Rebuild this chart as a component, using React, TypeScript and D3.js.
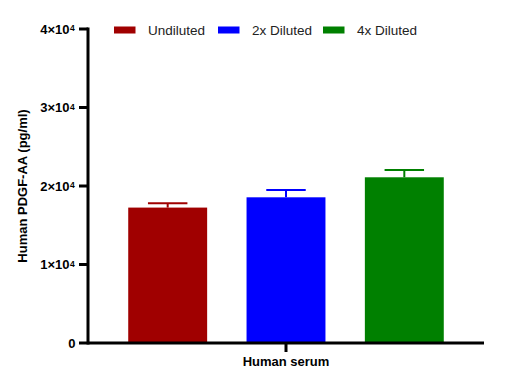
import React from "react";
import * as d3 from "d3";

const groupLabel = "Human serum";
const seriesNames = ["Undiluted", "2x Diluted", "4x Diluted"];
const seriesMeans = [17250, 18560, 21110];
const seriesErrors = [550, 930, 930];
const seriesColors = ["#A00000", "#0000FF", "#008000"];
const yTicks = [0, 10000, 20000, 30000, 40000];
const yTickMantissa = ["0", "1", "2", "3", "4"];

const W = 528;
const H = 389;
const left = 88;
const right = 484;
const top = 29;
const bottom = 343;

export default function App() {
  const y = d3.scaleLinear().domain([0, 40000]).range([bottom, top]);
  const x = d3
    .scaleBand<string>()
    .domain(seriesNames)
    .range([left, right])
    .paddingInner(0.333)
    .paddingOuter(0.34);
  const bw = x.bandwidth();
  const font = "'Liberation Sans', Arial, sans-serif";
  const legendX = [114, 218, 323];
  const groupCenter = x(seriesNames[1])! + bw / 2;

  return (
    <svg
      width={W}
      height={H}
      style={{ position: "absolute", left: 0, top: 0 }}
      fontFamily={font}
    >
      <rect width={W} height={H} fill="#fff" />
      {seriesNames.map((s, i) => {
        const x0 = x(s)!;
        const yt = y(seriesMeans[i]);
        const ye = y(seriesMeans[i] + seriesErrors[i]);
        const cx = x0 + bw / 2;
        return (
          <g key={s}>
            <line x1={cx} x2={cx} y1={yt} y2={ye} stroke={seriesColors[i]} strokeWidth={2} />
            <line x1={cx - bw / 4} x2={cx + bw / 4} y1={ye} y2={ye} stroke={seriesColors[i]} strokeWidth={2} />
            <rect
              x={x0}
              y={yt}
              width={bw}
              height={bottom - yt}
              fill={seriesColors[i]}
            />
          </g>
        );
      })}
      {/* y axis */}
      <line x1={left} x2={left} y1={top - 1.5} y2={bottom + 1.5} stroke="#000" strokeWidth={3} />
      {yTicks.map((t, i) => (
        <g key={t}>
          <line x1={left - 9} x2={left} y1={y(t)} y2={y(t)} stroke="#000" strokeWidth={3} />
          <text
            x={t === 0 ? 75.5 : 69.5}
            y={y(t)}
            dy="0.36em"
            textAnchor="end"
            fontSize={13}
            fontWeight="bold"
            fill="#000"
          >
            {t === 0 ? "0" : `${yTickMantissa[i]}×10`}
          </text>
          {t !== 0 && (
            <text x={70} y={y(t) + 2.4} fontSize={8.5} fontWeight="bold" fill="#000">
              4
            </text>
          )}
        </g>
      ))}
      {/* x axis */}
      <line x1={left} x2={right} y1={bottom} y2={bottom} stroke="#000" strokeWidth={3} />
      <line
        x1={groupCenter}
        x2={groupCenter}
        y1={bottom}
        y2={bottom + 9}
        stroke="#000"
        strokeWidth={3}
      />
      <text
        x={groupCenter}
        y={366}
        textAnchor="middle"
        fontSize={13}
        fontWeight="bold"
        fill="#000"
      >
        {groupLabel}
      </text>
      <text
        transform={`translate(27, ${(top + bottom) / 2}) rotate(-90)`}
        textAnchor="middle"
        fontSize={13}
        fontWeight="bold"
        fill="#000"
      >
        Human PDGF-AA (pg/ml)
      </text>
      {/* legend */}
      {seriesNames.map((s, i) => (
        <g key={"lg" + s}>
          <rect x={legendX[i]} y={26.5} width={21.5} height={7} fill={seriesColors[i]} />
          <text x={legendX[i] + 34} y={34.5} fontSize={13.5} fill="#222">
            {s}
          </text>
        </g>
      ))}
    </svg>
  );
}
